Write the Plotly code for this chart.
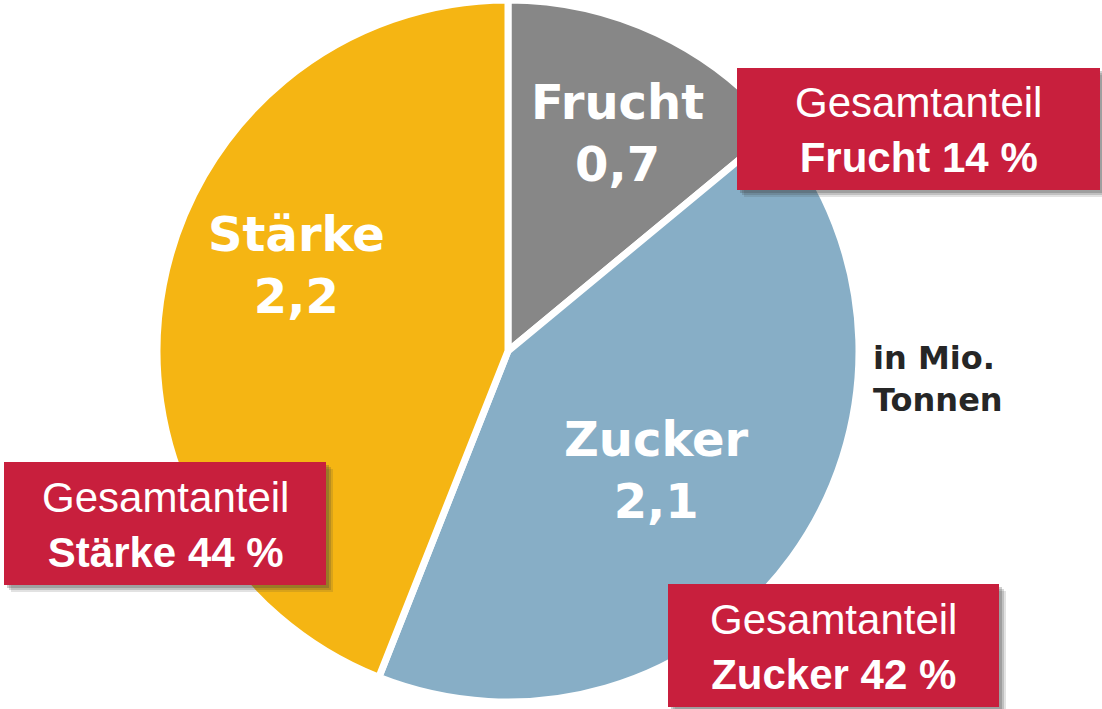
import plotly.graph_objects as go

# Data
categories = ["Frucht", "Zucker", "Stärke"]
values = [0.7, 2.1, 2.2]
colors = ["#878787", "#87AEC6", "#F5B513"]
unit_note = "in Mio.<br>Tonnen"

W, H = 1102, 709
RED = "#C81F3D"


def px_x(x):
    return x / W


def px_y(y):
    return 1 - y / H


def de_num(v):
    return f"{v:.1f}".replace(".", ",")


total = sum(values)
shares = [round(v / total * 100) for v in values]

fig = go.Figure()

# pie centered at (508, 351), radius ~351 px
fig.add_trace(go.Pie(
    labels=categories,
    values=values,
    sort=False,
    direction="clockwise",
    rotation=0,
    marker=dict(colors=colors, line=dict(color="white", width=7)),
    textinfo="none",
    hoverinfo="label+value+percent",
    showlegend=False,
    domain=dict(x=[px_x(157), px_x(859)], y=[px_y(702), px_y(0)]),
))

# slice labels (pixel anchor positions)
label_pos = {"Frucht": (617, 133), "Zucker": (657, 470), "Stärke": (296, 265)}
for cat, val in zip(categories, values):
    x, y = label_pos[cat]
    fig.add_annotation(
        x=px_x(x), y=px_y(y), xref="paper", yref="paper",
        xanchor="center", yanchor="middle",
        text=f"<b>{cat}<br>{de_num(val)}</b>", showarrow=False,
        font=dict(family="DejaVu Sans", size=48, color="white"),
        align="center",
    )

# red share boxes with a soft shadow
boxes = {"Frucht": (737, 68, 1100, 190),
         "Zucker": (668, 584, 999, 707),
         "Stärke": (4, 462, 326, 585)}
for cat, share in zip(categories, shares):
    x0, y0, x1, y1 = boxes[cat]
    for off, alpha in [(7, 0.15), (5, 0.2), (3, 0.25)]:
        fig.add_shape(type="rect", xref="paper", yref="paper",
                      x0=px_x(x0 + off), x1=px_x(x1 + off),
                      y0=px_y(y0 + off), y1=px_y(y1 + off),
                      fillcolor=f"rgba(60,60,60,{alpha})", line=dict(width=0),
                      layer="above")
    fig.add_shape(type="rect", xref="paper", yref="paper",
                  x0=px_x(x0), x1=px_x(x1), y0=px_y(y0), y1=px_y(y1),
                  fillcolor=RED, line=dict(width=0), layer="above")
    fig.add_annotation(
        x=px_x((x0 + x1) / 2), y=px_y((y0 + y1) / 2 + 1), xref="paper", yref="paper",
        xanchor="center", yanchor="middle",
        text=f"Gesamtanteil<br><b>{cat} {share} %</b>", showarrow=False,
        font=dict(family="Liberation Sans, Arial", size=42, color="white"),
        align="center",
    )

# unit note
fig.add_annotation(
    x=px_x(871), y=px_y(379), xref="paper", yref="paper",
    xanchor="left", yanchor="middle",
    text=f"<b>{unit_note}</b>", showarrow=False, align="left",
    font=dict(family="DejaVu Sans", size=32, color="#262626"),
)

fig.update_layout(
    width=W, height=H,
    margin=dict(l=0, r=0, t=0, b=0),
    paper_bgcolor="white",
    plot_bgcolor="white",
)

fig.write_html("out.html", config={"displayModeBar": False},
               post_script="document.body.style.margin='0';")
